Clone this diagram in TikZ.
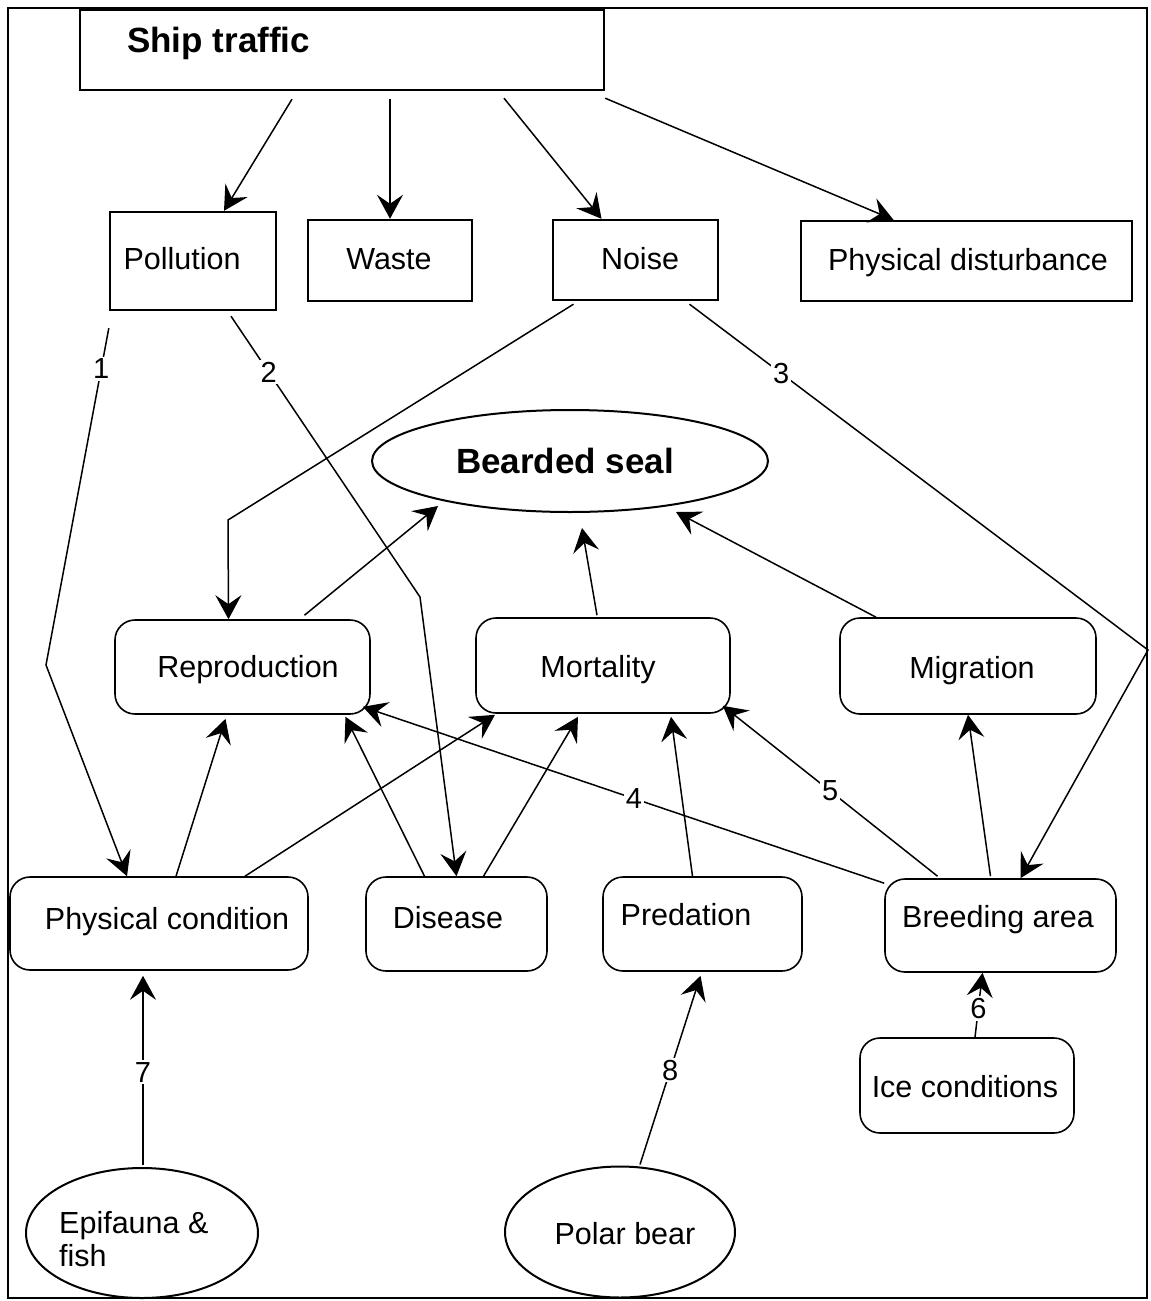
\documentclass[tikz,border=0pt]{standalone}
\usepackage{fontspec}
\setmainfont{Liberation Sans}
\usetikzlibrary{arrows.meta,shapes.geometric}

\begin{document}
\begin{tikzpicture}[x=1pt,y=-1pt,
  box/.style={draw,line width=2.4pt,inner sep=0pt},
  rbox/.style={draw,line width=1.6pt,rounded corners=20pt,inner sep=0pt},
  oval/.style={draw,ellipse,line width=2pt,inner sep=0pt},
  lbl/.style={font=\fontsize{30.5}{33}\selectfont,inner sep=0pt},
  blbl/.style={font=\fontsize{35}{38}\selectfont\bfseries,inner sep=0pt},
  num/.style={font=\fontsize{29}{30}\selectfont,fill=white,inner sep=2pt},
  link/.style={line width=1.5pt,-{Stealth[length=24pt,width=26pt,inset=9pt]}},
]
\useasboundingbox (0,0) rectangle (1151,1301);
\draw[line width=1.8pt] (8,8) rectangle (1147,1298);

% pressures
\node[box,minimum width=524pt,minimum height=80pt] (ship) at (342,50) {};
\node[blbl,anchor=base west] (tship) at (127,52) {Ship traffic};
\node[box,minimum width=166pt,minimum height=98pt] (pollution) at (193,261) {};
\node[lbl,anchor=base] (tpollution) at (182,269) {Pollution};
\node[box,minimum width=164pt,minimum height=81pt] (waste) at (390,260.5) {};
\node[lbl,anchor=base] (twaste) at (389,269) {Waste};
\node[box,minimum width=165pt,minimum height=80pt] (noise) at (635.5,260) {};
\node[lbl,anchor=base] (tnoise) at (640,269) {Noise};
\node[box,minimum width=331pt,minimum height=80pt] (disturb) at (966.5,261) {};
\node[lbl,anchor=base] (tdisturb) at (968,270) {Physical disturbance};

% the species
\node[oval,minimum width=396pt,minimum height=102pt] (seal) at (570,461) {};
\node[blbl,anchor=base] (tseal) at (565,473) {Bearded seal};

% effects
\node[rbox,minimum width=255pt,minimum height=94pt] (repro) at (242.5,667) {};
\node[lbl,anchor=base] (trepro) at (248,677) {Reproduction};
\node[rbox,minimum width=254pt,minimum height=95pt] (mort) at (603,665.5) {};
\node[lbl,anchor=base] (tmort) at (598,677) {Mortality};
\node[rbox,minimum width=256pt,minimum height=96pt] (migr) at (968,666) {};
\node[lbl,anchor=base] (tmigr) at (972,678) {Migration};

% factors
\node[rbox,minimum width=298pt,minimum height=93pt] (cond) at (159,923.5) {};
\node[lbl,anchor=base] (tcond) at (167,929) {Physical condition};
\node[rbox,minimum width=181pt,minimum height=94pt] (disease) at (456.5,924) {};
\node[lbl,anchor=base] (tdisease) at (448,928) {Disease};
\node[rbox,minimum width=199pt,minimum height=94pt] (pred) at (702.5,924) {};
\node[lbl,anchor=base] (tpred) at (686,925) {Predation};
\node[rbox,minimum width=231pt,minimum height=93pt] (breed) at (1000.5,925.5) {};
\node[lbl,anchor=base] (tbreed) at (998,927) {Breeding area};
\node[rbox,minimum width=214pt,minimum height=95pt] (ice) at (967,1085.5) {};
\node[lbl,anchor=base] (tice) at (965,1097) {Ice conditions};

% outside sources
\node[oval,minimum width=232pt,minimum height=130pt] (epi) at (142,1233) {};
\node[lbl,align=left,anchor=west] (tepi) at (59,1239) {Epifauna \&\\fish};
\node[oval,minimum width=230pt,minimum height=131pt] (bear) at (620,1232) {};
\node[lbl,anchor=base] (tbear) at (625,1244) {Polar bear};

% bends of the long connectors
\coordinate (b1) at (46,665);
\coordinate (b2) at (420,597);
\coordinate (b3) at (228,520);
\coordinate (b4) at (1148,650);

% ship traffic to pressures
\draw[link] ([xshift=-50pt,yshift=-8pt]ship.south) -- ([xshift=31pt]pollution.north);
\draw[link] ([xshift=48pt,yshift=-8pt]ship.south) -- (waste.north);
\draw[link] ([xshift=162pt,yshift=-7pt]ship.south) -- ([xshift=-34pt]noise.north);
\draw[link] ([yshift=-7pt]ship.south east) -- ([xshift=-73pt]disturb.north);

% pressures to factors and effects
\draw[link] ([yshift=-17pt]pollution.south west) -- node[num,pos=0.12] (n1) {1} (b1) -- ([xshift=-32pt]cond.north);
\draw[link] ([xshift=38pt,yshift=-5pt]pollution.south) -- node[num,pos=0.2] (n2) {2} (b2) -- (disease.north);
\draw[link] ([xshift=-62pt,yshift=-3pt]noise.south) -- (b3) -- ([xshift=-14pt]repro.north);
\draw[link] ([xshift=54pt,yshift=-3pt]noise.south) -- node[num,pos=0.2] (n3) {3} (b4) -- ([xshift=20pt]breed.north);

% effects to the seal
\draw[link] ([xshift=62pt,yshift=4pt]repro.north) -- ([xshift=-132pt,yshift=7pt]seal.south);
\draw[link] ([xshift=-6pt,yshift=2pt]mort.north) -- ([xshift=12pt,yshift=-15pt]seal.south);
\draw[link] ([xshift=-92pt]migr.north) -- ([xshift=106pt,yshift=1pt]seal.south);

% factors to effects
\draw[link] ([xshift=17pt]cond.north) -- ([xshift=-17pt,yshift=-4pt]repro.south);
\draw[link] ([xshift=86pt]cond.north) -- ([xshift=-108pt,yshift=-1pt]mort.south);
\draw[link] ([xshift=-32pt]disease.north) -- ([xshift=103pt,yshift=-2pt]repro.south);
\draw[link] ([xshift=27pt]disease.north) -- ([xshift=-25pt,yshift=-3pt]mort.south);
\draw[link] ([xshift=-10pt]pred.north) -- ([xshift=68pt,yshift=-3pt]mort.south);
\draw[link] ([yshift=-5pt]breed.north west) -- node[num,pos=0.48] (n4) {4} ([xshift=-8pt,yshift=8pt]repro.south east);
\draw[link] ([xshift=-63pt,yshift=2pt]breed.north) -- node[num,pos=0.5] (n5) {5} ([xshift=-8pt,yshift=8pt]mort.south east);
\draw[link] ([xshift=-10pt,yshift=2pt]breed.north) -- (migr.south);

% sources to factors
\draw[link] ([xshift=8pt]ice.north) -- node[num,pos=0.45] (n6) {6} ([xshift=-18pt]breed.south);
\draw[link] ([xshift=1pt,yshift=2pt]epi.north) -- node[num,pos=0.49] (n7) {7} ([xshift=-16pt,yshift=-5pt]cond.south);
\draw[link] ([xshift=20pt,yshift=1pt]bear.north) -- node[num,pos=0.5] (n8) {8} ([xshift=-2pt,yshift=-4pt]pred.south);
\end{tikzpicture}
\end{document}
